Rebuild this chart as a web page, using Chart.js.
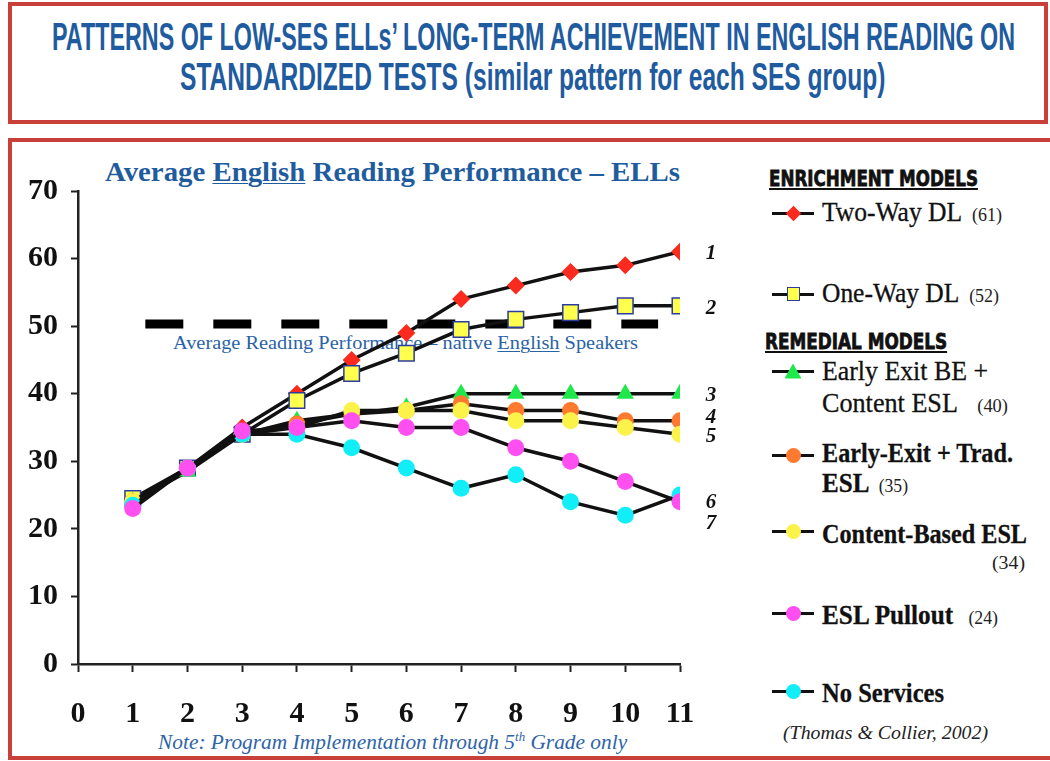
<!DOCTYPE html>
<html>
<head>
<meta charset="utf-8">
<script src="https://cdn.jsdelivr.net/npm/chart.js@4.4.1/dist/chart.umd.min.js"></script>
<style>
  body { margin: 0; background: #fff; width: 1050px; height: 761px; overflow: hidden; position: relative; font-family: "Liberation Serif", serif; }
  .box { position: absolute; border: 4px solid #c9403b; box-sizing: border-box; }
  .t { position: absolute; white-space: nowrap; line-height: 1; transform-origin: 0 0; }
  .head { font: bold 39px "Liberation Sans", sans-serif; color: #1f5b9f; }
  .grp { font: bold 20.6px "DejaVu Sans", sans-serif; color: #111; -webkit-text-stroke: 0.8px #111; text-decoration: underline; text-decoration-thickness: 2px; text-underline-offset: 2px; }
  .item { font-size: 27px; color: #111; -webkit-text-stroke: 0.3px #111; }
  .cnt { font-size: 19px; font-weight: normal; color: #222; -webkit-text-stroke: 0; }
  .u { text-decoration: underline; text-decoration-thickness: 1px; text-underline-offset: 2px; }
  .lline { position: absolute; left: 772px; width: 42px; height: 3px; background: #111; }
  .mk { position: absolute; box-sizing: border-box; }
  #chart { position: absolute; left: 0; top: 140px; }
</style>
</head>
<body>
<div class="box" style="left:8px;top:2px;width:1040px;height:122px;"></div>
<div class="box" style="left:8px;top:138px;width:1100px;height:622px;"></div>

<div class="t head" data-w="963" style="left:52px;top:15px;">PATTERNS OF LOW-SES ELLs’ LONG-TERM ACHIEVEMENT IN ENGLISH READING ON</div>
<div class="t head" data-w="705" style="left:180px;top:55px;">STANDARDIZED TESTS (similar pattern for each SES group)</div>

<div class="t" data-w="575" style="left:105px;top:156px;font:bold 28px 'Liberation Serif',serif;color:#1f5c9e;">Average <span class="u">English</span> Reading Performance – ELLs</div>
<div class="t" data-w="465" style="left:173px;top:333px;font:18px 'Liberation Serif',serif;color:#2a63a6;">Average Reading Performance – native <span class="u">English</span> Speakers</div>
<div class="t" data-w="469" style="left:158px;top:730px;font:italic 21px 'Liberation Serif',serif;color:#2e64a8;">Note: Program Implementation through 5<sup style="font-size:60%;line-height:0">th</sup> Grade only</div>

<div class="t grp" data-w="209" style="left:769px;top:167px;">ENRICHMENT MODELS</div>
<div class="t grp" data-w="182" style="left:765px;top:330px;">REMEDIAL MODELS</div>

<div class="t item" data-w="180" style="left:822px;top:199px;">Two-Way DL <span class="cnt">&nbsp;(61)</span></div>
<div class="t item" data-w="177" style="left:822px;top:280px;">One-Way DL <span class="cnt">&nbsp;(52)</span></div>
<div class="t item" data-w="166" style="left:822px;top:358px;">Early Exit BE +</div>
<div class="t item" data-w="186" style="left:822px;top:390px;">Content ESL <span class="cnt">&nbsp;&nbsp;&nbsp;(40)</span></div>
<div class="t item" data-w="191" style="left:822px;top:440px;font-weight:bold;">Early-Exit + Trad.</div>
<div class="t item" data-w="86" style="left:822px;top:470px;font-weight:bold;">ESL <span class="cnt">&nbsp;(35)</span></div>
<div class="t item" data-w="205" style="left:822px;top:521px;font-weight:bold;">Content-Based ESL</div>
<div class="t cnt" data-w="33" style="left:992px;top:553px;">(34)</div>
<div class="t item" data-w="176" style="left:822px;top:602px;font-weight:bold;">ESL Pullout <span class="cnt">&nbsp;&nbsp;(24)</span></div>
<div class="t item" data-w="122" style="left:822px;top:680px;font-weight:bold;">No Services</div>
<div class="t" data-w="205" style="left:783px;top:722px;font:italic 19px 'Liberation Serif',serif;color:#222;">(Thomas &amp; Collier, 2002)</div>

<div id="legendMarks"></div>

<canvas id="chart" width="760" height="620"></canvas>

<script>
// grade levels (x) and average scores (y)
const grades = [1, 2, 3, 4, 5, 6, 7, 8, 9, 10, 11];
const twoWayDL      = [24, 29, 35, 40, 45, 49, 54, 56, 58, 59, 61];
const oneWayDL      = [24.5, 29, 34, 39, 43, 46, 49.5, 51, 52, 53, 53];
const earlyExitBE   = [24, 28.5, 34, 36, 37, 38, 40, 40, 40, 40, 40];
const earlyExitTrad = [24, 29, 34, 35.5, 37, 37.5, 38.5, 37.5, 37.5, 36, 36];
const contentESL    = [24, 29, 34, 35, 37.5, 37.5, 37.5, 36, 36, 35, 34];
const eslPullout    = [23, 29, 34.5, 35, 36, 35, 35, 32, 30, 27, 24];
const noServices    = [23.5, 29, 34, 34, 32, 29, 26, 28, 24, 22, 25];

// native English speakers average and the grade span of the dashed line
const nativeAvg = 50.3;
const nativeSpan = [1.23, 10.6];

const endNumbers = ["1", "2", "3", "4", "5", "6", "7"];

const serif = "'Liberation Serif', serif";

const series = [
  { label: "Two-Way DL", data: twoWayDL, shape: "rectRot", fill: "#fa2a1e", edge: "#fa2a1e", r: 9, order: 6, shift: 2 },
  { label: "One-Way DL", data: oneWayDL, shape: "rect", fill: "#ffff4d", edge: "#2b3c9c", r: 11, order: 5, shift: 3 },
  { label: "Early Exit BE + Content ESL", data: earlyExitBE, shape: "triangle", fill: "#1ee84a", edge: "#1ee84a", r: 10, order: 4, shift: 2 },
  { label: "Early-Exit + Trad. ESL", data: earlyExitTrad, shape: "circle", fill: "#ff7a2e", edge: "#ff7a2e", r: 8.5, order: 3, shift: -3 },
  { label: "Content-Based ESL", data: contentESL, shape: "circle", fill: "#fbf24a", edge: "#fbf24a", r: 8.5, order: 2, shift: 2 },
  { label: "ESL Pullout", data: eslPullout, shape: "circle", fill: "#ff4ff0", edge: "#ff4ff0", r: 8.5, order: 0, shift: 1 },
  { label: "No Services", data: noServices, shape: "circle", fill: "#12eef7", edge: "#12eef7", r: 8.5, order: 1, shift: 29 },
];

const datasets = series.map((s, i) => ({
  label: s.label,
  data: grades.map((g, k) => ({ x: g, y: s.data[k] })),
  borderColor: "#111",
  borderWidth: 3.5,
  tension: 0,
  pointStyle: s.shape,
  pointRadius: s.r,
  pointBackgroundColor: s.fill,
  pointBorderColor: s.edge,
  pointBorderWidth: s.shape === "rect" ? 1.5 : 0,
  order: s.order,
  endLabel: endNumbers[i],
  endShift: s.shift,
}));

datasets.push({
  label: "native",
  data: nativeSpan.map((g) => ({ x: g, y: nativeAvg })),
  borderColor: "#000",
  borderWidth: 9,
  borderDash: [38, 30],
  borderCapStyle: "butt",
  pointRadius: 0,
  order: 10,
});

const endNumberPlugin = {
  id: "endNumbers",
  afterDatasetsDraw(chart) {
    const ctx = chart.ctx;
    ctx.save();
    ctx.font = "italic bold 21px " + serif;
    ctx.fillStyle = "#111";
    ctx.textAlign = "center";
    ctx.textBaseline = "middle";
    chart.data.datasets.forEach((ds, i) => {
      if (!ds.endLabel) return;
      const pts = chart.getDatasetMeta(i).data;
      const last = pts[pts.length - 1];
      ctx.fillText(ds.endLabel, last.x + 31, last.y + ds.endShift);
    });
    ctx.restore();
  },
};

const tickFont = { family: serif, size: 30, weight: "bold" };

new Chart(document.getElementById("chart"), {
  type: "line",
  data: { datasets: datasets },
  options: {
    responsive: false,
    animation: false,
    layout: { padding: { top: 51, right: 80, left: 0, bottom: 0 } },
    plugins: { legend: { display: false }, tooltip: { enabled: false } },
    scales: {
      x: {
        type: "linear",
        min: 0,
        max: 11,
        ticks: { stepSize: 1, autoSkip: false, maxRotation: 0, color: "#111", font: tickFont, padding: 24 },
        grid: { drawOnChartArea: false, tickLength: 8, tickWidth: 2, color: "#222" },
        border: { color: "#222", width: 2.5 },
        afterFit: (scale) => { scale.height = 96; },
      },
      y: {
        min: 0,
        max: 70,
        ticks: { stepSize: 10, color: "#111", font: tickFont, padding: 13 },
        grid: { drawOnChartArea: false, tickLength: 7, tickWidth: 2, color: "#222" },
        border: { color: "#222", width: 2.5 },
        afterFit: (scale) => { scale.width = 78; },
      },
    },
  },
  plugins: [endNumberPlugin],
});

// legend markers, one row per series
const legendRows = [213, 294, 371, 455, 531, 613, 691];
const holder = document.getElementById("legendMarks");
series.forEach((s, i) => {
  const y = legendRows[i];
  const line = document.createElement("div");
  line.className = "lline";
  line.style.top = (y - 1.5) + "px";
  holder.appendChild(line);

  const m = document.createElement("div");
  m.className = "mk";
  let w = 15, h = 15;
  if (s.shape === "rectRot") { w = 11; h = 11; m.style.transform = "rotate(45deg)"; }
  if (s.shape === "rect") { w = 13; h = 14; m.style.border = "1.5px solid " + s.edge; }
  if (s.shape === "triangle") { w = 17; h = 15; m.style.clipPath = "polygon(50% 0, 100% 100%, 0 100%)"; }
  if (s.shape === "circle") { m.style.borderRadius = "50%"; }
  m.style.width = w + "px";
  m.style.height = h + "px";
  m.style.left = (793 - w / 2) + "px";
  m.style.top = (y - h / 2) + "px";
  m.style.background = s.fill;
  holder.appendChild(m);
});

// squeeze text blocks to the widths they have in the picture
function fitTexts() {
  document.querySelectorAll("[data-w]").forEach((el) => {
    el.style.transform = "none";
    const s = Number(el.dataset.w) / el.getBoundingClientRect().width;
    el.style.transform = "scaleX(" + s.toFixed(3) + ")";
  });
}
fitTexts();
document.fonts.ready.then(fitTexts);
</script>
</body>
</html>
